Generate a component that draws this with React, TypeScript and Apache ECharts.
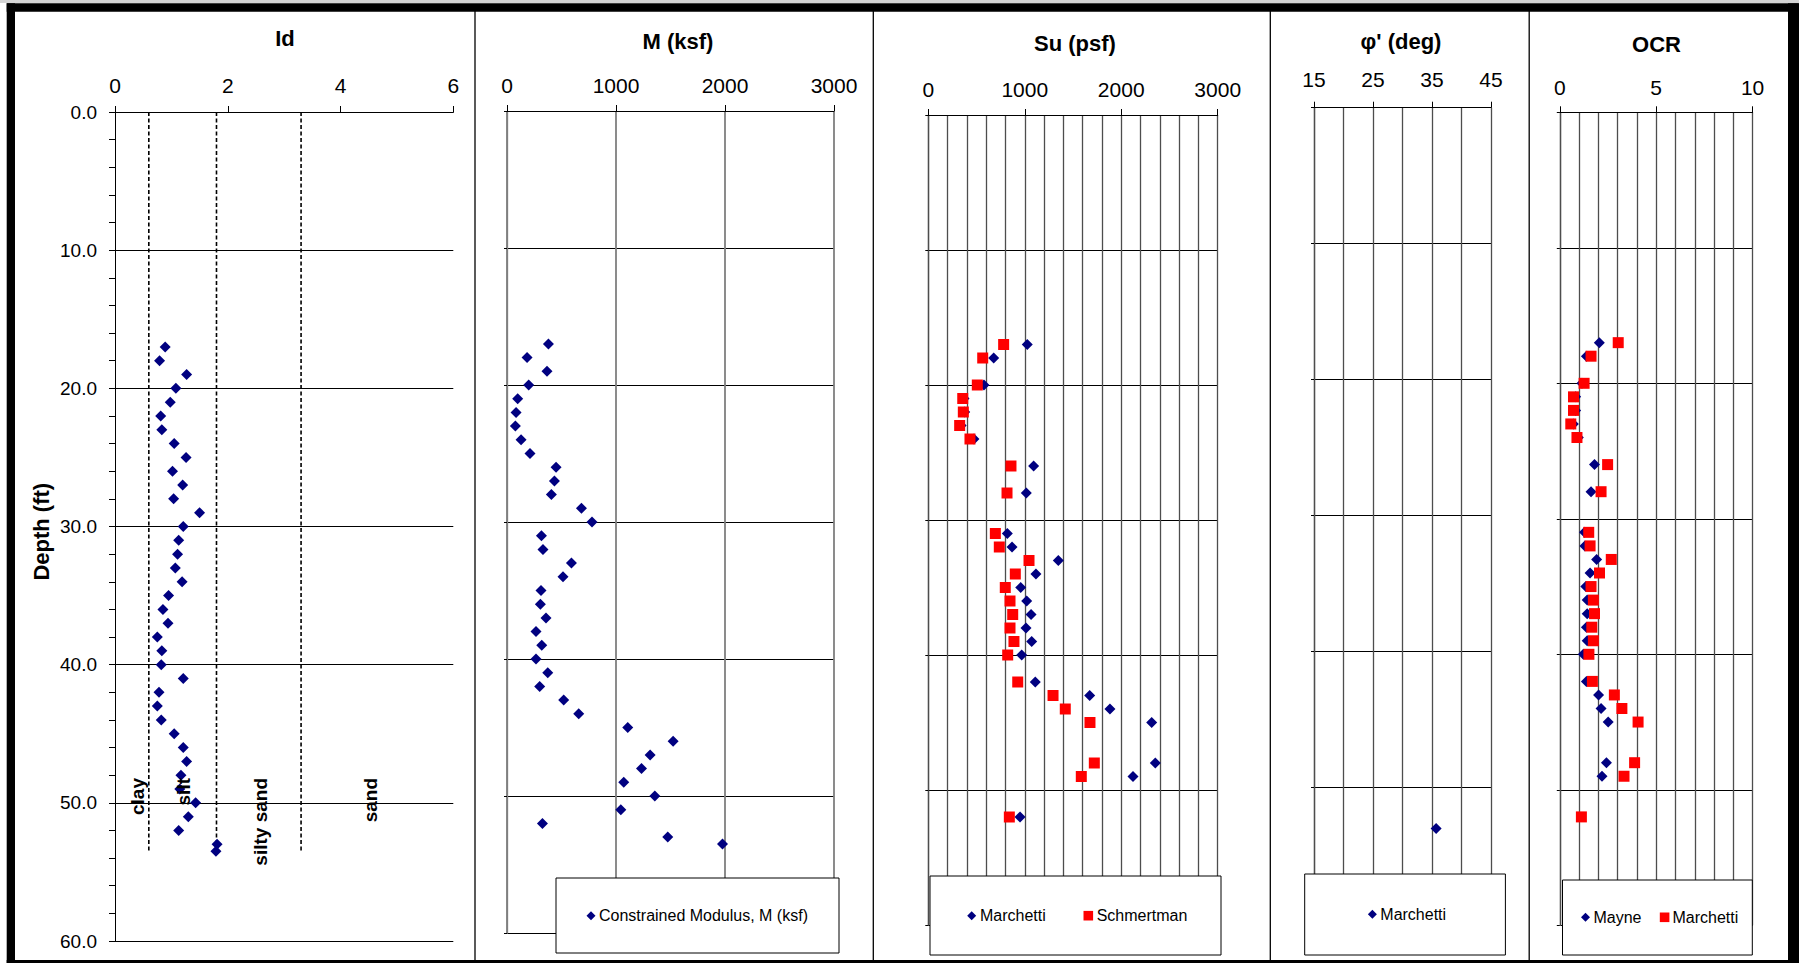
import React, { useEffect, useRef } from "react";
import * as echarts from "echarts";

const FONT = '"Liberation Sans", Arial, Helvetica, sans-serif';

// Depth of each dilatometer reading (ft)
const depthId = [17, 18, 19, 20, 21, 22, 23, 24, 25, 26, 27, 28, 29, 30, 31, 32, 33, 34, 35, 36, 37, 38, 39, 40, 41, 42, 43, 44, 45, 46, 47, 48, 49, 50, 51, 52, 53, 53.5];
// Material index Id
const materialIndex = [0.89, 0.79, 1.27, 1.08, 0.98, 0.81, 0.83, 1.05, 1.26, 1.02, 1.2, 1.04, 1.5, 1.21, 1.13, 1.11, 1.07, 1.19, 0.95, 0.85, 0.94, 0.75, 0.83, 0.82, 1.21, 0.78, 0.75, 0.82, 1.05, 1.21, 1.27, 1.17, 1.15, 1.43, 1.3, 1.13, 1.81, 1.79];
// Constrained modulus M (ksf)
const constrainedModulus = [380, 184, 367, 199, 98, 83, 77, 129, 211, 450, 435, 407, 683, 780, 316, 330, 591, 514, 312, 306, 358, 266, 319, 266, 374, 300, 520, 658, 1108, 1524, 1313, 1234, 1071, 1356, 1044, 325, 1475, 1977];

// Undrained shear strength Su (psf)
const depthSu = [17, 18, 20, 21, 22, 23, 24, 26, 28, 31, 32, 33, 34, 35, 36, 37, 38, 39, 40, 42, 43, 44, 45, 48, 49, 52];
const suMarchetti = [1026, 678, 577, 370, 377, 340, 473, 1092, 1016, 819, 868, 1348, 1116, 958, 1020, 1065, 1013, 1072, 968, 1109, 1673, 1883, 2316, 2353, 2122, 951];
const suSchmertman = [781, 564, 508, 357, 363, 325, 432, 857, 816, 695, 736, 1044, 902, 798, 847, 875, 847, 888, 823, 927, 1293, 1420, 1676, 1721, 1586, 840];

// Friction angle phi' (deg)
const depthPhi = [53];
const phiMarchetti = [35.7];

// Overconsolidation ratio
const depthOcrMayne = [17, 18, 20, 21, 22, 23, 24, 26, 28, 31, 32, 33, 34, 35, 36, 37, 38, 39, 40, 42, 43, 44, 45, 48, 49];
const ocrMayne = [2.05, 1.38, 1.15, 0.82, 0.82, 0.7, 0.96, 1.8, 1.62, 1.28, 1.3, 1.91, 1.57, 1.35, 1.42, 1.42, 1.38, 1.42, 1.22, 1.38, 2.01, 2.14, 2.51, 2.42, 2.19];
const depthOcrMarchetti = [17, 18, 20, 21, 22, 23, 24, 26, 28, 31, 32, 33, 34, 35, 36, 37, 38, 39, 40, 42, 43, 44, 45, 48, 49, 52];
const ocrMarchetti = [3.03, 1.62, 1.26, 0.71, 0.71, 0.57, 0.89, 2.48, 2.14, 1.5, 1.57, 2.67, 2.06, 1.62, 1.74, 1.8, 1.66, 1.74, 1.51, 1.69, 2.83, 3.22, 4.06, 3.88, 3.33, 1.12];

// Soil classification boundaries on Id
const idBoundaries = [0.6, 1.8, 3.3];
const boundaryDepth = 53.5;
const soilClasses = ["clay", "silt", "silty sand", "sand"];

const NAVY = "#000080";
const RED = "#ff0000";

const pairs = (xs: number[], ds: number[]) => xs.map((v, i) => [v, ds[i]]);

const grids = [
  { left: 115, top: 112, width: 338.3, height: 829 },
  { left: 507, top: 111, width: 327, height: 822 },
  { left: 928.3, top: 115, width: 289.4, height: 810 },
  { left: 1314, top: 107.7, width: 177, height: 816 },
  { left: 1559.8, top: 112.3, width: 192.8, height: 813 },
];

const titles = [
  { text: "Id", x: 285, y: 38 },
  { text: "M (ksf)", x: 678, y: 41 },
  { text: "Su (psf)", x: 1075, y: 43 },
  { text: "\u03c6' (deg)", x: 1401, y: 41 },
  { text: "OCR", x: 1656.5, y: 44 },
];

const classLabelX = [137, 183.4, 260, 370];

const legends = [
  { box: [556, 878, 283, 75], ty: 915.7, items: [{ sym: "diamond", cx: 591, tx: 599, text: "Constrained Modulus, M (ksf)" }] },
  {
    box: [930, 876, 291, 79], ty: 915.7,
    items: [
      { sym: "diamond", cx: 971.7, tx: 980, text: "Marchetti" },
      { sym: "square", cx: 1088.3, tx: 1096.7, text: "Schmertman" },
    ],
  },
  { box: [1304.7, 874, 200.7, 81], ty: 914.3, items: [{ sym: "diamond", cx: 1372.4, tx: 1380.3, text: "Marchetti" }] },
  {
    box: [1562.5, 880, 189.8, 75], ty: 917.3,
    items: [
      { sym: "diamond", cx: 1585.5, tx: 1593.4, text: "Mayne" },
      { sym: "square", cx: 1664.6, tx: 1672.5, text: "Marchetti" },
    ],
  },
];

const separators = [475, 873.3, 1270.3, 1529.2];

function textEl(text: string, x: number, y: number, font: string, align: string, rotation = 0, z = 60) {
  return {
    type: "text",
    x,
    y,
    rotation,
    z,
    silent: true,
    style: {
      text,
      x: 0,
      y: 0,
      font,
      fill: "#000",
      align,
      verticalAlign: "middle",
      textAlign: align,
      textVerticalAlign: "middle",
    },
  };
}

function buildGraphic() {
  const els: any[] = [];
  // outer frame
  els.push({ type: "rect", z: 70, silent: true, shape: { x: 0, y: 0, width: 1799, height: 3 }, style: { fill: "#d4d4d4" } });
  els.push({ type: "rect", z: 70, silent: true, shape: { x: 6.7, y: 3.3, width: 8.3, height: 962 }, style: { fill: "#000" } });
  els.push({ type: "rect", z: 70, silent: true, shape: { x: 6.7, y: 3.3, width: 1792, height: 8.4 }, style: { fill: "#000" } });
  els.push({ type: "rect", z: 70, silent: true, shape: { x: 1788, y: 3.3, width: 11, height: 962 }, style: { fill: "#000" } });
  els.push({ type: "rect", z: 70, silent: true, shape: { x: 6.7, y: 960, width: 1792, height: 3 }, style: { fill: "#000" } });
  // panel separators
  separators.forEach((x) =>
    els.push({ type: "line", z: 65, silent: true, shape: { x1: x, y1: 11, x2: x, y2: 960 }, style: { stroke: "#000", lineWidth: 1.3 } })
  );
  // titles
  titles.forEach((t) => els.push(textEl(t.text, t.x, t.y, `bold 22px ${FONT}`, "center")));
  // depth axis name
  els.push(textEl("Depth (ft)", 41.6, 531.7, `bold 22px ${FONT}`, "center", Math.PI / 2));
  // soil class names
  soilClasses.forEach((c, i) => els.push(textEl(c, classLabelX[i], 778, `bold 19px ${FONT}`, "right", Math.PI / 2, 80)));
  // legends
  legends.forEach((lg) => {
    const [bx, by, bw, bh] = lg.box;
    els.push({ type: "rect", z: 50, silent: true, shape: { x: bx, y: by, width: bw, height: bh }, style: { fill: "#fff", stroke: "#000", lineWidth: 1 } });
    lg.items.forEach((it) => {
      if (it.sym === "diamond") {
        const h = 4.5;
        els.push({
          type: "polygon", z: 55, silent: true,
          shape: { points: [[it.cx, lg.ty - h], [it.cx + h, lg.ty], [it.cx, lg.ty + h], [it.cx - h, lg.ty]] },
          style: { fill: NAVY },
        });
      } else {
        const h = 4.8;
        els.push({ type: "rect", z: 55, silent: true, shape: { x: it.cx - h, y: lg.ty - h, width: 2 * h, height: 2 * h }, style: { fill: RED } });
      }
      els.push(textEl(it.text, it.tx, lg.ty, `16px ${FONT}`, "left", 0, 55));
    });
  });
  return els;
}

function xAxis(i: number, min: number, max: number, interval: number, margin: number, split: any, minorSplit: number | null) {
  return {
    gridIndex: i,
    type: "value",
    position: "top",
    min,
    max,
    interval,
    axisLine: { show: true, onZero: false, lineStyle: { color: "#000", width: 1 } },
    axisTick: { show: true, inside: false, length: 6, lineStyle: { color: "#000", width: 1 } },
    axisLabel: {
      show: true,
      fontSize: 21,
      color: "#000",
      margin,
      fontFamily: FONT,
      showMinLabel: true,
      showMaxLabel: true,
      formatter: (v: number) => String(v),
    },
    splitLine: split ? { show: true, lineStyle: split } : { show: false },
    minorTick: { show: false, splitNumber: minorSplit || 5 },
    minorSplitLine: minorSplit ? { show: true, lineStyle: split } : { show: false },
  };
}

function yAxis(i: number, labelled: boolean, lineColor: string) {
  return {
    gridIndex: i,
    type: "value",
    inverse: true,
    position: "left",
    min: 0,
    max: 60,
    interval: 10,
    axisLine: { show: true, onZero: false, lineStyle: { color: lineColor, width: labelled ? 1 : 1.3 } },
    axisTick: { show: true, inside: false, length: labelled ? 6 : 3, lineStyle: { color: "#000", width: 1 } },
    minorTick: { show: labelled, splitNumber: 5, length: 6, lineStyle: { color: "#000", width: 1 } },
    axisLabel: labelled
      ? { show: true, formatter: (v: number) => v.toFixed(1), fontSize: 19, color: "#000", margin: 18, fontFamily: FONT, showMinLabel: true, showMaxLabel: true }
      : { show: false },
    splitLine: { show: true, lineStyle: { color: "#000", width: 1 } },
  };
}

function scatter(name: string, axis: number, data: number[][], symbol: string, color: string) {
  return {
    name,
    type: "scatter",
    xAxisIndex: axis,
    yAxisIndex: axis,
    data,
    symbol,
    symbolSize: 11,
    itemStyle: { color, opacity: 1 },
    z: symbol === "rect" ? 4 : 3,
    silent: true,
  };
}

export default function App() {
  const ref = useRef<HTMLDivElement>(null);

  useEffect(() => {
    if (!ref.current) return;
    const chart = echarts.init(ref.current, undefined, { renderer: "svg" });
    const gridStyle = { color: "#4d4d4d", width: 1.3 };
    const option: any = {
      animation: false,
      backgroundColor: "#fff",
      textStyle: { fontFamily: FONT },
      grid: grids.map((g) => ({ ...g, containLabel: false })),
      xAxis: [
        xAxis(0, 0, 6, 2, 16, null, null),
        xAxis(1, 0, 3000, 1000, 15, { color: "#7f7f7f", width: 1.8 }, null),
        xAxis(2, 0, 3000, 1000, 15, gridStyle, 5),
        xAxis(3, 15, 45, 10, 17.5, gridStyle, 2),
        xAxis(4, 0, 10, 5, 14, gridStyle, 5),
      ],
      yAxis: [
        yAxis(0, true, "#000"),
        yAxis(1, false, "#7f7f7f"),
        yAxis(2, false, "#4d4d4d"),
        yAxis(3, false, "#4d4d4d"),
        yAxis(4, false, "#4d4d4d"),
      ],
      series: [
        ...idBoundaries.map((b, k) => ({
          name: `boundary-${k}`,
          type: "line",
          xAxisIndex: 0,
          yAxisIndex: 0,
          data: [[b, 0], [b, boundaryDepth]],
          symbol: "none",
          silent: true,
          lineStyle: { color: "#000", width: 1.6, type: [4, 2.5] },
          z: 2,
        })),
        scatter("Id", 0, pairs(materialIndex, depthId), "diamond", NAVY),
        scatter("Constrained Modulus, M (ksf)", 1, pairs(constrainedModulus, depthId), "diamond", NAVY),
        scatter("Su Marchetti", 2, pairs(suMarchetti, depthSu), "diamond", NAVY),
        scatter("Su Schmertman", 2, pairs(suSchmertman, depthSu), "rect", RED),
        scatter("Phi Marchetti", 3, pairs(phiMarchetti, depthPhi), "diamond", NAVY),
        scatter("OCR Mayne", 4, pairs(ocrMayne, depthOcrMayne), "diamond", NAVY),
        scatter("OCR Marchetti", 4, pairs(ocrMarchetti, depthOcrMarchetti), "rect", RED),
      ],
      graphic: { elements: buildGraphic() },
    };
    chart.setOption(option);
    return () => chart.dispose();
  }, []);

  return (
    <div
      ref={ref}
      style={{ position: "absolute", left: 0, top: 0, width: 1799, height: 963, background: "#fff" }}
    />
  );
}
